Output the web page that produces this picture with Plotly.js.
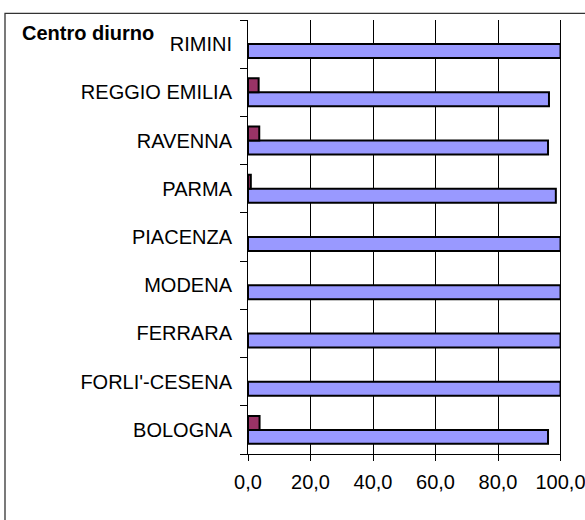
<!DOCTYPE html>
<html>
<head>
<meta charset="utf-8">
<script src="https://cdn.plot.ly/plotly-3.0.1.min.js"></script>
<style>html,body{margin:0;padding:0;background:#fff;}#chart{width:585px;height:520px;}</style>
</head>
<body>
<div id="chart"></div>
<script>
var categories = ["BOLOGNA", "FORLI'-CESENA", "FERRARA", "MODENA", "PIACENZA", "PARMA", "RAVENNA", "REGGIO EMILIA", "RIMINI"];
var seriesBlue = [96.0, 100, 100, 100, 100, 98.5, 96.0, 96.3, 100];
var seriesMaroon = [3.7, 0, 0, 0, 0, 0.9, 3.6, 3.4, 0];
var chartTitle = "Centro diurno";
var xTickValues = [0, 20, 40, 60, 80, 100];

var FONT = "Arial, 'Liberation Sans', sans-serif";

function hideZero(arr) { return arr.map(function (v) { return v === 0 ? null : v; }); }

var traces = [
  {
    type: "bar", orientation: "h", y: categories, x: hideZero(seriesBlue),
    marker: {color: "#9999FF", line: {color: "#000000", width: 2}},
    hoverinfo: "x+y", showlegend: false
  },
  {
    type: "bar", orientation: "h", y: categories, x: hideZero(seriesMaroon),
    marker: {color: "#993366", line: {color: "#000000", width: 2}},
    hoverinfo: "x+y", showlegend: false
  }
];

var xMax = xTickValues[xTickValues.length - 1];

var layout = {
  width: 585, height: 520,
  margin: {l: 248, r: 24, t: 20, b: 66, pad: 0},
  paper_bgcolor: "#ffffff", plot_bgcolor: "#ffffff",
  font: {family: FONT, size: 20, color: "#000000"},
  separators: ", ",
  barmode: "group", bargap: 0.42, bargroupgap: 0,
  title: {
    text: "<b>" + chartTitle + "</b>",
    font: {family: FONT, size: 20, color: "#000000"},
    xref: "container", yref: "container",
    x: 22 / 585, xanchor: "left",
    y: 1 - 32.5 / 520, yanchor: "middle"
  },
  xaxis: {
    range: [0, 100.15], tickvals: xTickValues, tickformat: ".1f",
    showgrid: true, gridcolor: "#000000", gridwidth: 1,
    zeroline: false, showline: true, linecolor: "#000000", linewidth: 1,
    ticks: "outside", ticklen: 6, tickcolor: "#000000", tickwidth: 1,
    ticklabelstandoff: 4, ticklabeloverflow: "allow",
    tickfont: {family: FONT, size: 20, color: "#000000"},
    fixedrange: true
  },
  yaxis: {
    type: "category", categoryorder: "array", categoryarray: categories,
    tickson: "boundaries",
    showgrid: false, zeroline: false,
    showline: true, linecolor: "#000000", linewidth: 1,
    ticks: "outside", ticklen: 7, tickcolor: "#000000", tickwidth: 1,
    ticklabelstandoff: 11,
    tickfont: {family: FONT, size: 20, color: "#000000"},
    fixedrange: true
  },
  shapes: [
    {
      type: "rect", xref: "paper", yref: "paper",
      x0: (5 - 248) / 313, x1: 1.3, y0: -0.4, y1: (454 - 13.3) / 434,
      line: {color: "#333333", width: 1.3}, fillcolor: "rgba(0,0,0,0)", layer: "below"
    },
    {
      type: "line", xref: "x", yref: "paper",
      x0: xMax, x1: xMax, y0: -6 / 434, y1: 1,
      line: {color: "#000000", width: 1}, layer: "below"
    }
  ]
};

Plotly.newPlot("chart", traces, layout, {displayModeBar: false, staticPlot: true});
</script>
</body>
</html>
